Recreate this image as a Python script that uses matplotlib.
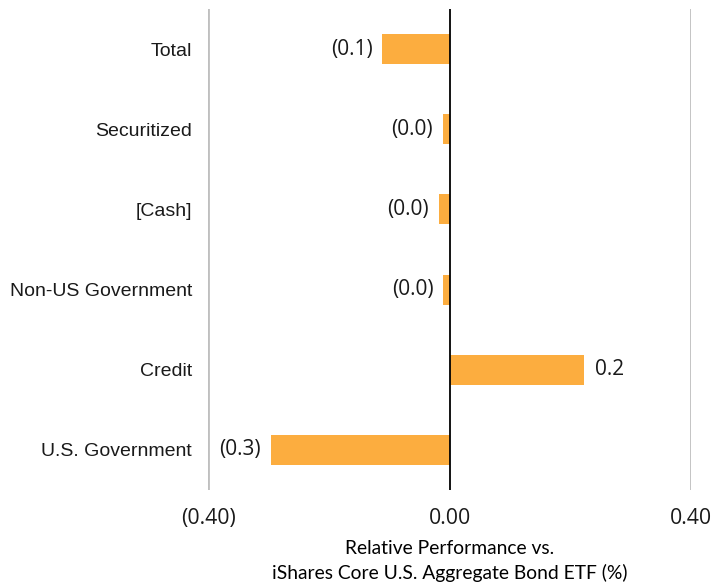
import matplotlib.pyplot as plt
from matplotlib.ticker import FuncFormatter

categories = ['Total', 'Securitized', '[Cash]', 'Non-US Government', 'Credit', 'U.S. Government']
values = [-0.111, -0.011, -0.018, -0.010, 0.223, -0.296]
xticks = [-0.4, 0.0, 0.4]
bar_color = '#FCAD3F'


def paren(v, decimals):
    s = f'{abs(v):.{decimals}f}'
    return f'({s})' if v < 0 else s


fig = plt.figure(figsize=(7.11, 5.83), dpi=100)
ax = fig.add_axes([208 / 711, 1 - 490 / 583, (691 - 208) / 711, (490 - 9) / 583])

ypos = list(range(len(categories)))[::-1]
ax.barh(ypos, values, height=0.375, color=bar_color, zorder=2)

ax.set_xlim(-0.4, 0.4)
ax.set_ylim(-0.5, len(categories) - 0.5)
ax.set_yticks(ypos)
ax.set_yticklabels(categories, fontsize=14, family='Liberation Sans', color='#1a1a1a')
ax.set_xticks(xticks)
ax.xaxis.set_major_formatter(FuncFormatter(lambda v, p: paren(v, 2)))
for lbl in ax.get_xticklabels():
    lbl.set_fontsize(15.3)
    lbl.set_family('Open Sans')
    lbl.set_color('#1a1a1a')
ax.tick_params(length=0, axis='y', pad=11.5)
ax.tick_params(length=0, axis='x', pad=13)

for s in ax.spines.values():
    s.set_visible(False)
ax.axvline(-0.4, color='#BFBFBF', lw=2, zorder=1)
ax.axvline(0.4, color='#BFBFBF', lw=2, zorder=1)
ax.axvline(0.0, color='black', lw=1.3, zorder=3)

for y, v in zip(ypos, values):
    txt = paren(v, 1)
    if v < 0:
        ax.annotate(txt, (v, y), xytext=(-7, 0), textcoords='offset points',
                    ha='right', va='center', fontsize=15, family='Open Sans', color='#1a1a1a')
    else:
        ax.annotate(txt, (v, y), xytext=(8, 0), textcoords='offset points',
                    ha='left', va='center', fontsize=15, family='Open Sans', color='#1a1a1a')

ax.set_xlabel('Relative Performance vs.\niShares Core U.S. Aggregate Bond ETF (%)',
              fontsize=13.9, family='Lato', labelpad=8, linespacing=1.45)

fig.savefig('out.png', dpi=100)
